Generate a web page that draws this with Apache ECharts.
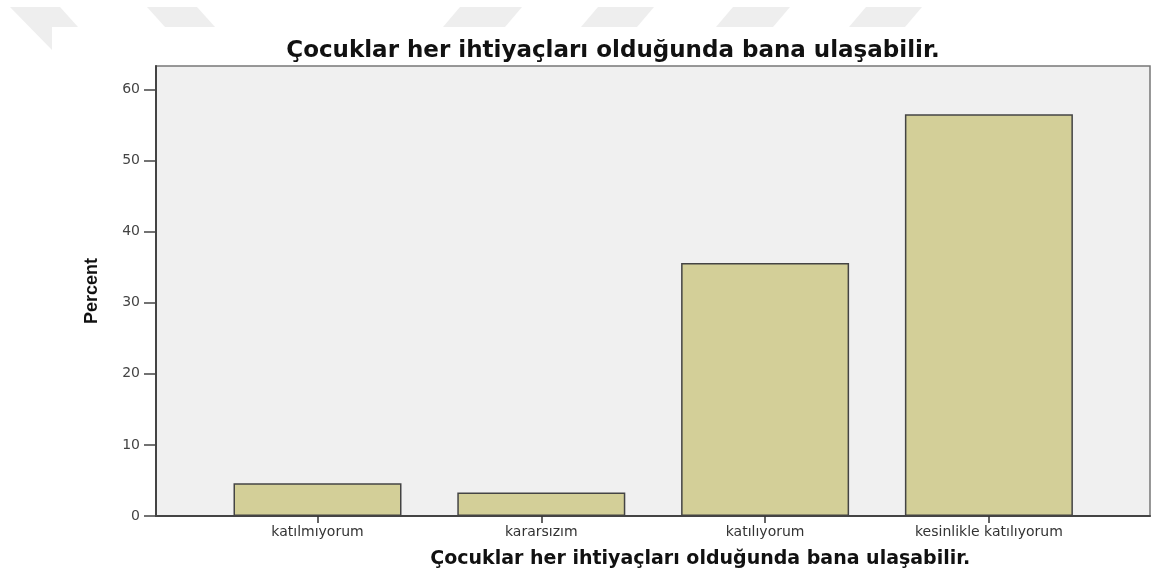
<!DOCTYPE html>
<html>
<head>
<meta charset="utf-8">
<title>Çocuklar her ihtiyaçları olduğunda bana ulaşabilir.</title>
<script src="https://cdn.jsdelivr.net/npm/echarts@6/dist/echarts.min.js"></script>
<style>
  html, body { margin: 0; padding: 0; background: #fff; }
  #chart { width: 1152px; height: 573px; }
</style>
</head>
<body>
<div id="chart"></div>
<script>
// veriler
const chartTitle = 'Çocuklar her ihtiyaçları olduğunda bana ulaşabilir.'
const categories = ['katılmıyorum', 'kararsızım', 'katılıyorum', 'kesinlikle katılıyorum']
const percents = [4.6, 3.3, 35.6, 56.5]
const yTicks = [0, 10, 20, 30, 40, 50, 60]
const yMax = 63.3

// arka plandaki soluk filigran şekilleri
const marks = [
  [[10, 7], [60, 7], [78, 27], [52, 27], [52, 50]],
  [[147, 7], [197, 7], [215, 27], [165, 27]],
  [[460, 7], [522, 7], [505, 27], [443, 27]],
  [[598, 7], [654, 7], [637, 27], [581, 27]],
  [[733, 7], [790, 7], [773, 27], [716, 27]],
  [[866, 7], [922, 7], [905, 27], [849, 27]]
]

const chart = echarts.init(document.getElementById('chart'))
const option = {
  backgroundColor: '#fff',
  animation: false,
  graphic: marks.map(p => ({
    type: 'polygon',
    z: -10,
    silent: true,
    shape: { points: p },
    style: { fill: '#eeeeee' }
  })),
  title: {
    text: chartTitle,
    left: 608,
    top: 35,
    textAlign: 'center',
    textStyle: {
      fontFamily: 'DejaVu Sans',
      fontWeight: 'bold',
      fontSize: 23,
      color: '#111'
    }
  },
  grid: [
    // dış çerçeve (gri alan)
    {
      left: 156,
      right: 2,
      top: 66,
      bottom: 57,
      outerBoundsMode: 'none',
      show: true,
      backgroundColor: '#f0f0f0',
      borderColor: '#777',
      borderWidth: 1.5
    },
    // çubuklar için iç alan
    {
      left: 205.6,
      right: 51.2,
      top: 66,
      bottom: 57,
      outerBoundsMode: 'none'
    }
  ],
  xAxis: [
    {
      type: 'value',
      gridIndex: 0,
      min: 0,
      max: 1,
      axisLine: { show: true, lineStyle: { color: '#444', width: 2 } },
      axisTick: { show: false },
      axisLabel: { show: false },
      splitLine: { show: false }
    },
    {
      type: 'category',
      gridIndex: 1,
      data: categories,
      axisLine: { show: false },
      axisTick: {
        show: true,
        alignWithLabel: true,
        length: 7,
        lineStyle: { color: '#333', width: 1.5 }
      },
      axisLabel: {
        margin: 9,
        fontFamily: 'DejaVu Sans',
        fontSize: 14,
        color: '#333'
      },
      name: chartTitle,
      nameLocation: 'middle',
      nameGap: 34,
      nameTextStyle: {
        fontFamily: 'DejaVu Sans',
        fontWeight: 'bold',
        fontSize: 19,
        color: '#111',
        padding: [0, 0, 0, 94]
      }
    }
  ],
  yAxis: [
    {
      type: 'value',
      gridIndex: 0,
      min: 0,
      max: yMax,
      interval: 10,
      axisLine: { show: true, lineStyle: { color: '#444', width: 2 } },
      axisTick: {
        show: true,
        inside: false,
        length: 12,
        customValues: yTicks,
        lineStyle: { color: '#444', width: 1.5 }
      },
      axisLabel: {
        margin: 16,
        customValues: yTicks,
        fontFamily: 'DejaVu Sans',
        fontSize: 14,
        color: '#444'
      },
      splitLine: { show: false },
      name: 'Percent',
      nameLocation: 'middle',
      nameRotate: 90,
      nameGap: 55,
      nameTextStyle: {
        fontFamily: 'Liberation Sans',
        fontWeight: 'bold',
        fontSize: 18,
        color: '#111'
      }
    },
    {
      type: 'value',
      gridIndex: 1,
      min: 0,
      max: yMax,
      show: false
    }
  ],
  series: [
    {
      type: 'bar',
      xAxisIndex: 1,
      yAxisIndex: 1,
      data: percents,
      barWidth: 168,
      itemStyle: {
        color: '#d3cf98',
        borderColor: '#444',
        borderWidth: 1.5
      }
    }
  ]
}
chart.setOption(option)
</script>
</body>
</html>
